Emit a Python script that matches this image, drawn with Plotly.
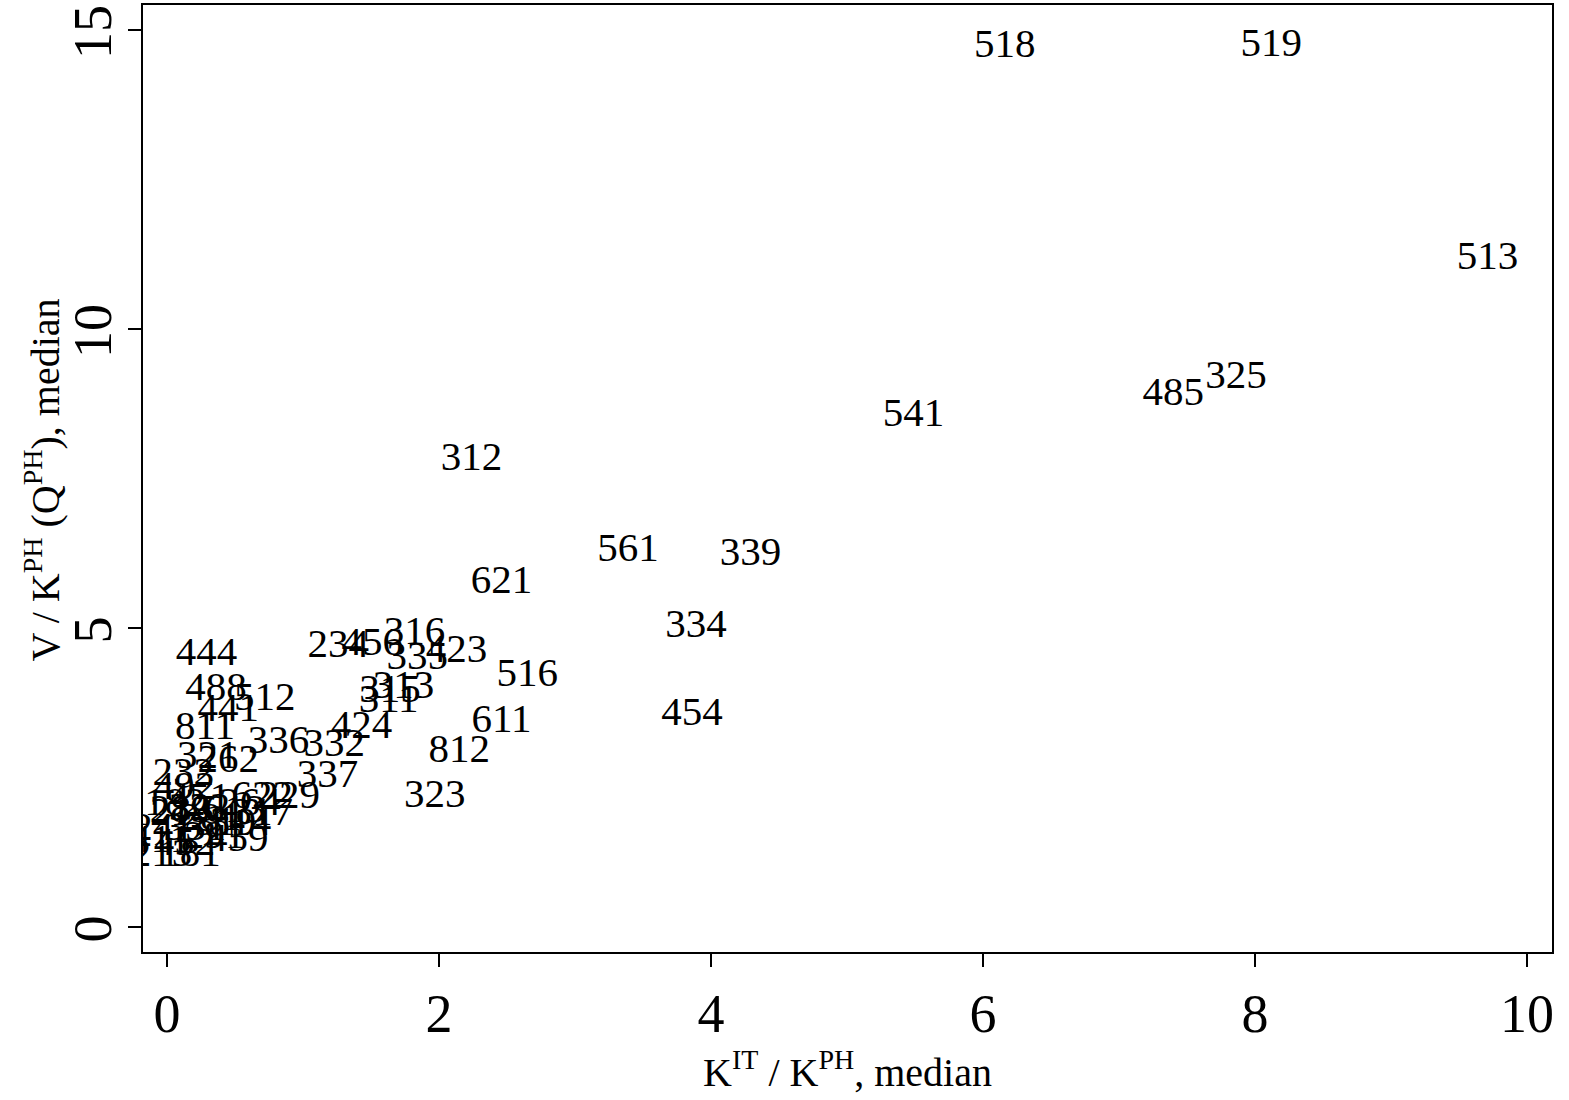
import plotly.graph_objects as go

# Industry codes and their medians: K^IT/K^PH (x) and V/K^PH (y)
codes = [
    "518", "519", "513", "325", "485", "541", "312", "561", "339", "621",
    "334", "454", "516", "611", "812", "323", "234", "456", "316", "335",
    "423", "313", "315", "311", "444", "488", "512", "441", "811", "321",
    "262", "336", "332", "424", "337", "232", "492", "622", "229", "264",
    "317", "459", "121", "241", "411", "213", "181", "289", "322", "281",
    "331", "319", "291", "452", "613", "314", "451", "182",
]
kit_kph = [
    6.16, 8.12, 9.71, 7.86, 7.40, 5.49, 2.24, 3.39, 4.29, 2.46,
    3.89, 3.86, 2.65, 2.46, 2.15, 1.97, 1.26, 1.51, 1.82, 1.84,
    2.13, 1.74, 1.64, 1.63, 0.29, 0.36, 0.72, 0.45, 0.28, 0.30,
    0.45, 0.82, 1.23, 1.43, 1.18, 0.12, 0.13, 0.70, 0.90, 0.61,
    0.70, 0.52, -0.05, -0.03, -0.05, -0.04, 0.17, 0.10, 0.24, 0.32,
    0.21, 0.43, 0.35, 0.13, 0.50, 0.54, 0.24, 0.06,
]
v_kph = [
    14.72, 14.73, 11.17, 9.18, 8.90, 8.55, 7.81, 6.29, 6.22, 5.75,
    5.02, 3.55, 4.20, 3.43, 2.93, 2.17, 4.68, 4.72, 4.90, 4.48,
    4.60, 4.00, 3.93, 3.76, 4.55, 3.96, 3.80, 3.61, 3.31, 2.83,
    2.76, 3.08, 3.03, 3.34, 2.51, 2.54, 2.32, 2.16, 2.16, 2.04,
    1.87, 1.45, 1.87, 1.62, 1.42, 1.19, 1.19, 1.92, 1.96, 1.79,
    1.62, 1.71, 1.49, 1.37, 1.92, 1.71, 2.12, 2.04,
]

x_ticks = [0, 2, 4, 6, 8, 10]
y_ticks = [0, 5, 10, 15]

serif = "Liberation Serif, Times New Roman, serif"

fig = go.Figure(
    go.Scatter(
        x=kit_kph,
        y=v_kph,
        mode="text",
        text=codes,
        textposition="middle center",
        textfont=dict(family=serif, size=41, color="black"),
        hoverinfo="x+y+text",
    )
)

axis_common = dict(
    showgrid=False,
    zeroline=False,
    showline=True,
    linecolor="black",
    linewidth=2,
    mirror=True,
    ticks="outside",
    ticklen=13,
    tickwidth=2,
    tickcolor="black",
    automargin=False,
    ticklabeloverflow="allow",
    tickfont=dict(family=serif, size=54, color="black"),
)

fig.update_layout(
    width=1569,
    height=1100,
    margin=dict(l=143, r=17, t=5, b=148),
    paper_bgcolor="white",
    plot_bgcolor="white",
    showlegend=False,
    xaxis=dict(
        axis_common,
        range=[-0.176, 10.184],
        tickvals=x_ticks,
        title=dict(
            text="K<sup>IT</sup> / K<sup>PH</sup>, median",
            font=dict(family=serif, size=40, color="black"),
            standoff=2,
        ),
    ),
    yaxis=dict(
        axis_common,
        range=[-0.418, 15.418],
        tickvals=y_ticks,
        tickangle=-90,
        ticklabelshift=10,
        ticklabelstandoff=-5,
    ),
    annotations=[
        dict(
            text="V / K<sup>PH</sup> (Q<sup>PH</sup>), median",
            font=dict(family=serif, size=40, color="black"),
            textangle=-90,
            xref="paper",
            yref="paper",
            x=-0.0716,
            y=0.498,
            xanchor="center",
            yanchor="middle",
            showarrow=False,
        )
    ],
)

fig.write_html("out.html")
